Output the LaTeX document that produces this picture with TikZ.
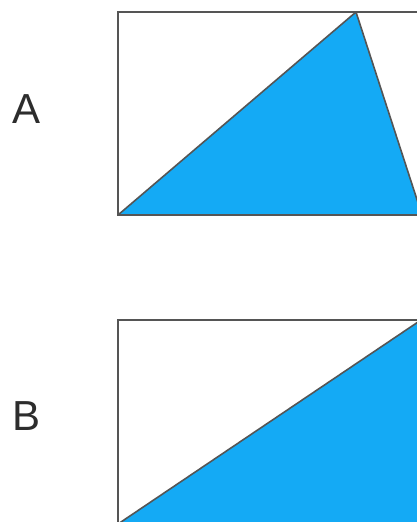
\documentclass[tikz,border=0pt]{standalone}
\usepackage{fontspec}
\setmainfont{Liberation Sans}
\definecolor{fillblue}{RGB}{20,170,245}
\definecolor{edge}{RGB}{85,85,85}
\definecolor{labelgray}{RGB}{45,45,45}
\tikzset{
  frame/.style={draw=edge, line width=2pt},
  shade blue/.style={fill=fillblue, draw=edge, line width=1.6pt, line join=round},
  letter/.style={text=labelgray, font=\fontsize{42}{42}\selectfont, inner sep=0pt}
}
\begin{document}
\begin{tikzpicture}[x=1pt,y=-1pt]
\useasboundingbox (0,0) rectangle (417,522);
\clip (0,0) rectangle (417,522);
\fill[white] (0,0) rectangle (417,522);
% A
\draw[shade blue] (118,215) -- (356,12) -- (422,215) -- cycle;
\draw[frame] (118,12) rectangle (450,215);
\node[letter] (la) at (27,109) {A};
% B
\draw[shade blue] (118,524) -- (421,320) -- (450,320) -- (450,560) -- (118,560) -- cycle;
\draw[frame] (118,320) rectangle (450,560);
\node[letter] (lb) at (27,416) {B};
\end{tikzpicture}
\end{document}
